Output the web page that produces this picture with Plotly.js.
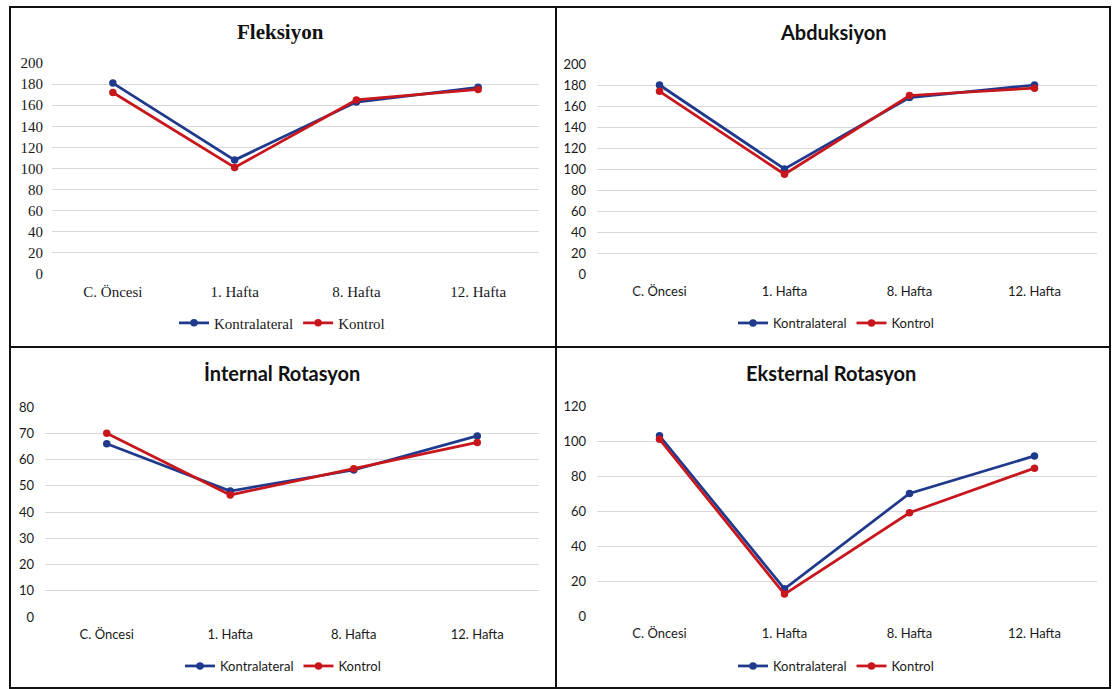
<!DOCTYPE html>
<html>
<head>
<meta charset="utf-8">
<script src="https://cdn.plot.ly/plotly-3.0.1.min.js"></script>
<style>html,body{margin:0;padding:0;background:#fff;}#chart{width:1113px;height:689px;}</style>
</head>
<body>
<div id="chart"></div>
<script>
// ---- data ----
const categories = ['C. Öncesi', '1. Hafta', '8. Hafta', '12. Hafta'];
const seriesNames = ['Kontralateral', 'Kontrol'];
const panelTitles = ['Fleksiyon', 'Abduksiyon', 'İnternal Rotasyon', 'Eksternal Rotasyon'];

const flexKontralateral = [181, 108, 163, 177];
const flexKontrol       = [172, 101, 165, 175];
const abdKontralateral  = [180, 100, 168, 180];
const abdKontrol        = [174, 95, 170, 177];
const intKontralateral  = [66, 48, 56, 69];
const intKontrol        = [70, 46.5, 56.5, 66.5];
const extKontralateral  = [103, 15.5, 70, 91.5];
const extKontrol        = [101, 12.5, 59, 84.5];

const yTicks1 = [0, 20, 40, 60, 80, 100, 120, 140, 160, 180, 200];
const yTicks2 = [0, 20, 40, 60, 80, 100, 120, 140, 160, 180, 200];
const yTicks3 = [0, 10, 20, 30, 40, 50, 60, 70, 80];
const yTicks4 = [0, 20, 40, 60, 80, 100, 120];

// ---- styling ----
const W = 1113, H = 689;
const px = v => v / W;
const py = v => 1 - v / H;
const BLUE = '#1f3a8c';
const RED = '#c8161d';
const SERIF = 'Liberation Serif, Times New Roman, serif';
const SANS = 'Lato, Carlito, Calibri, sans-serif';

const panels = [
  {k: flexKontralateral, c: flexKontrol, ticks: yTicks1, font: SERIF, fs: 15, lfs: 15, tfs: 21, x: [52, 539], y: [274, 63], tx: 280, ty: 32, lx: 282, ly: 323},
  {k: abdKontralateral, c: abdKontrol, ticks: yTicks2, font: SANS, fs: 13, lfs: 13, tfs: 20, x: [597, 1097], y: [274, 64], tx: 833, ty: 32, lx: 836, ly: 323},
  {k: intKontralateral, c: intKontrol, ticks: yTicks3, font: SANS, fs: 13, lfs: 13, tfs: 20, x: [45, 539], y: [617, 407], tx: 282, ty: 373, lx: 283, ly: 666},
  {k: extKontralateral, c: extKontrol, ticks: yTicks4, font: SANS, fs: 13, lfs: 13, tfs: 20, x: [597, 1097], y: [616, 406], tx: 831, ty: 373, lx: 836, ly: 666}
];

const data = [];
const layout = {
  width: W, height: H,
  margin: {l: 0, r: 0, t: 0, b: 0},
  paper_bgcolor: '#ffffff', plot_bgcolor: 'rgba(0,0,0,0)',
  showlegend: true,
  annotations: [],
  shapes: []
};

panels.forEach((p, i) => {
  const n = i + 1;
  const xa = n === 1 ? 'x' : 'x' + n;
  const ya = n === 1 ? 'y' : 'y' + n;
  const lg = n === 1 ? 'legend' : 'legend' + n;
  [[p.k, BLUE, seriesNames[0]], [p.c, RED, seriesNames[1]]].forEach(([vals, col, name]) => {
    data.push({
      type: 'scatter', mode: 'lines+markers',
      x: categories, y: vals, name: name,
      xaxis: xa, yaxis: ya, legend: lg,
      line: {color: col, width: 2.75},
      marker: {color: col, size: 7.5},
      hoverinfo: 'skip'
    });
  });
  layout[n === 1 ? 'xaxis' : 'xaxis' + n] = {
    domain: [px(p.x[0]), px(p.x[1])], anchor: ya,
    type: 'category', range: [-0.5, 3.5],
    showgrid: false, zeroline: false, showline: false, ticks: '',
    tickfont: {family: p.font, size: p.fs, color: '#1a1a1a'},
    ticklabelstandoff: n === 1 ? 7 : 8, fixedrange: true
  };
  layout[n === 1 ? 'yaxis' : 'yaxis' + n] = {
    domain: [py(p.y[0]), py(p.y[1])], anchor: xa,
    range: [0, p.ticks[p.ticks.length - 1]],
    tickmode: 'array', tickvals: p.ticks,
    showgrid: true, gridcolor: '#d9d9d9', gridwidth: 1,
    zeroline: false, showline: false, ticks: '',
    tickfont: {family: p.font, size: p.fs, color: '#1a1a1a'},
    ticklabelstandoff: n === 1 ? 8 : 10, fixedrange: true
  };
  layout[lg] = {
    orientation: 'h', x: px(p.lx), y: py(p.ly),
    xanchor: 'center', yanchor: 'middle',
    font: {family: p.font, size: p.lfs, color: '#1a1a1a'},
    bgcolor: 'rgba(0,0,0,0)', itemwidth: 30, tracegroupgap: 0
  };
  layout.annotations.push({
    xref: 'paper', yref: 'paper', x: px(p.tx), y: py(p.ty),
    xanchor: 'center', yanchor: 'middle', showarrow: false,
    text: '<b>' + panelTitles[i] + '</b>',
    font: {family: p.font, size: p.tfs, color: '#111'}
  });
});

// panel borders
const bl = {color: '#111', width: 2};
layout.shapes.push(
  {type: 'rect', xref: 'paper', yref: 'paper', x0: px(10), x1: px(1110), y0: py(688), y1: py(7), line: bl},
  {type: 'line', xref: 'paper', yref: 'paper', x0: px(556), x1: px(556), y0: py(688), y1: py(7), line: bl},
  {type: 'line', xref: 'paper', yref: 'paper', x0: px(10), x1: px(1110), y0: py(347), y1: py(347), line: bl}
);

Plotly.newPlot('chart', data, layout, {staticPlot: true, displayModeBar: false});
</script>
</body>
</html>
